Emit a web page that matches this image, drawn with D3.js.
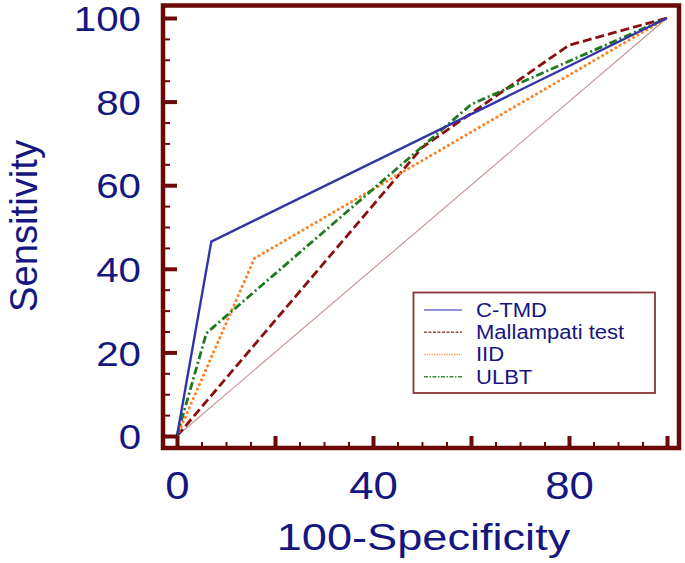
<!DOCTYPE html>
<html><head><meta charset="utf-8">
<script src="https://cdn.jsdelivr.net/npm/d3@7"></script>
<style>html,body{margin:0;padding:0;background:#fff;}svg{display:block;}</style>
</head><body>
<svg id="chart" width="685" height="563"></svg>
<script>
// ---- data ----
const seriesNames = ["C-TMD", "Mallampati test", "IID", "ULBT"];
const ctmd = [[0,0],[7,46.5],[100,100]];
const mallampati = [[0,0],[50,69],[80,93.5],[100,100]];
const iid = [[0,0],[15.8,42.5],[100,100]];
const ulbt = [[0,0],[6,24.6],[60,79.3],[100,100]];
const reference = [[0,0],[100,100]];
const xTickLabels = [0, 40, 80];
const yTickLabels = [0, 20, 40, 60, 80, 100];
const majorTicks = [0, 20, 40, 60, 80, 100];
const minorTicks = d3.range(0, 101, 5).filter(v => v % 20 !== 0);

const svg = d3.select("#chart");
const navy = "#161680";
const frameCol = "#6b0808";

const x = d3.scaleLinear().domain([0,100]).range([177, 667]);
const y = d3.scaleLinear().domain([0,100]).range([436, 18]);

const frame = {l:163, t:5.5, r:679, b:448};

function stretchText(sel, sx){
  sel.each(function(){
    const n = this.getComputedTextLength();
    this.setAttribute("textLength", n*sx);
    this.setAttribute("lengthAdjust", "spacingAndGlyphs");
  });
}

// reference diagonal
const line = d3.line().x(d=>x(d[0])).y(d=>y(d[1]));
svg.append("path").datum(reference).attr("d", line)
  .attr("fill","none").attr("stroke","#c49090").attr("stroke-width",1.1);

const styles = [
  {data: ctmd, color:"#3434a8", dash:null, w:2.4, cap:"butt", lcolor:"#6a6ad0", ldash:null},
  {data: mallampati, color:"#8a1010", dash:"9,4", w:2.8, cap:"butt", lcolor:"#a04848", ldash:"3,1.5"},
  {data: iid, color:"#ff8020", dash:"0.1,5", w:3, cap:"round", lcolor:"#ffa060", ldash:"1.5,1"},
  {data: ulbt, color:"#1f7a1f", dash:"8,3,2,3", w:2.8, cap:"butt", lcolor:"#3a8a3a", ldash:"4,1.5,1.5,1.5"}
];
[1,2,3,0].forEach(i=>{
  const s = styles[i];
  svg.append("path").datum(s.data).attr("d", line)
    .attr("fill","none").attr("stroke", s.color).attr("stroke-width", s.w)
    .attr("stroke-dasharray", s.dash).attr("stroke-linecap", s.cap)
    .attr("stroke-linejoin","round");
});

// ---- axes ticks (inside frame) ----
const yMaj = svg.append("g").attr("transform",`translate(${frame.l},0)`)
  .call(d3.axisRight(y).tickValues(majorTicks).tickSize(x(0)-frame.l).tickFormat(""));
yMaj.select(".domain").remove();
yMaj.selectAll("line").attr("stroke", frameCol).attr("stroke-width",4);
const yMin = svg.append("g").attr("transform",`translate(${frame.l},0)`)
  .call(d3.axisRight(y).tickValues(minorTicks).tickSize(7).tickFormat(""));
yMin.select(".domain").remove();
yMin.selectAll("line").attr("stroke", frameCol).attr("stroke-width",2);

const xMaj = svg.append("g").attr("transform",`translate(0,${frame.b})`)
  .call(d3.axisTop(x).tickValues(majorTicks).tickSize(frame.b-y(0)).tickFormat(""));
xMaj.select(".domain").remove();
xMaj.selectAll("line").attr("stroke", frameCol).attr("stroke-width",4);
const xMin = svg.append("g").attr("transform",`translate(0,${frame.b})`)
  .call(d3.axisTop(x).tickValues(minorTicks).tickSize(6).tickFormat(""));
xMin.select(".domain").remove();
xMin.selectAll("line").attr("stroke", frameCol).attr("stroke-width",2);

// frame
svg.append("rect").attr("x",frame.l).attr("y",frame.t)
  .attr("width",frame.r-frame.l).attr("height",frame.b-frame.t)
  .attr("fill","none").attr("stroke",frameCol).attr("stroke-width",4.5);

// tick labels
const yl = svg.append("g").attr("transform","translate(141,0)")
  .call(d3.axisLeft(y).tickValues(yTickLabels).tickSize(0).tickPadding(0));
yl.select(".domain").remove();
yl.selectAll("text").attr("font-family","'Liberation Sans', Arial, sans-serif")
  .attr("font-size",35).attr("fill",navy).attr("dy","0.36em");
yl.selectAll("text").call(stretchText, 1.15);

const xl = svg.append("g").attr("transform","translate(0,499)")
  .call(d3.axisBottom(x).tickValues(xTickLabels).tickSize(0).tickPadding(0));
xl.select(".domain").remove();
xl.selectAll("text").attr("font-family","'Liberation Sans', Arial, sans-serif")
  .attr("font-size",38).attr("fill",navy).attr("dy",0).attr("y",0);
xl.selectAll("text").call(stretchText, 1.15);

// axis titles
svg.append("text").attr("x",423.5).attr("y",550).attr("text-anchor","middle")
  .attr("font-family","'Liberation Sans', Arial, sans-serif").attr("font-size",37)
  .attr("fill",navy).text("100-Specificity").call(stretchText, 1.22);

svg.append("text").attr("transform","translate(37,226) rotate(-90)").attr("text-anchor","middle")
  .attr("font-family","'Liberation Sans', Arial, sans-serif").attr("font-size",38)
  .attr("fill",navy).text("Sensitivity")
  .each(function(){ this.setAttribute("textLength",172); this.setAttribute("lengthAdjust","spacingAndGlyphs"); });

// legend
const lg = svg.append("g");
lg.append("rect").attr("x",413.5).attr("y",292.5).attr("width",241.5).attr("height",100.5)
  .attr("fill","#fff").attr("stroke","#8b3434").attr("stroke-width",1.8);
const rowY = d3.scalePoint().domain(seriesNames).range([310, 376.7]);
seriesNames.forEach((nm,i)=>{
  const s = styles[i];
  lg.append("line").attr("x1",424).attr("x2",462).attr("y1",rowY(nm)).attr("y2",rowY(nm))
    .attr("stroke", s.lcolor).attr("stroke-width",1.5).attr("stroke-dasharray", s.ldash);
  lg.append("text").attr("x",476).attr("y",rowY(nm)+7)
    .attr("font-family","'Liberation Sans', Arial, sans-serif").attr("font-size",19.5)
    .attr("fill",navy).text(nm).call(stretchText, 1.13);
});
</script>
</body></html>
